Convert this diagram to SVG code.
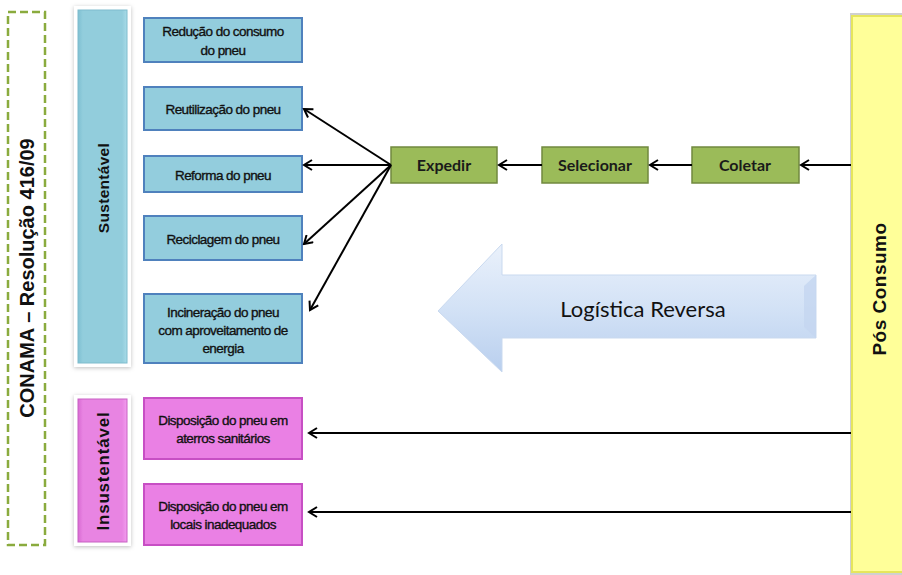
<svg xmlns="http://www.w3.org/2000/svg" width="902" height="575" viewBox="0 0 902 575">
<defs>
<style>
.bt{font-family:"Liberation Sans",Arial,sans-serif;font-size:13.5px;fill:#111;stroke:#111;stroke-width:0.35;text-anchor:middle;letter-spacing:-0.55px}
.gt{font-family:Lato,"Open Sans",sans-serif;font-size:16px;font-weight:700;fill:#1a1a1a;text-anchor:middle}
.rt{font-family:"Liberation Sans",Arial,sans-serif;font-weight:700;fill:#111;text-anchor:middle}
.blue{fill:#93cddd;stroke:#4f81bd;stroke-width:2}
.pink{fill:#ea80e4;stroke:#c74fc4;stroke-width:2}
.green{fill:#9bbb59;stroke:#71893f;stroke-width:1.5}
.con{stroke:#000;stroke-width:2;fill:none;marker-end:url(#ah)}
</style>
<marker id="ah" viewBox="0 0 12 12" refX="10" refY="6" markerWidth="12" markerHeight="12" markerUnits="userSpaceOnUse" orient="auto">
<path d="M2,1 L10,6 L2,11" fill="none" stroke="#000" stroke-width="2"/>
</marker>
<linearGradient id="ag" x1="0" y1="0" x2="0" y2="1">
<stop offset="0" stop-color="#eaf1fb"/>
<stop offset="0.5" stop-color="#d3e2f6"/>
<stop offset="1" stop-color="#b9cfee"/>
</linearGradient>
<linearGradient id="sb" x1="0" y1="0" x2="1" y2="0">
<stop offset="0" stop-color="#7fc0d2"/>
<stop offset="0.1" stop-color="#92cddc"/>
<stop offset="0.9" stop-color="#92cddc"/>
<stop offset="1" stop-color="#a8dbe8"/>
</linearGradient>
<linearGradient id="ib" x1="0" y1="0" x2="1" y2="0">
<stop offset="0" stop-color="#d86ad2"/>
<stop offset="0.1" stop-color="#e884e2"/>
<stop offset="0.9" stop-color="#e884e2"/>
<stop offset="1" stop-color="#f29cee"/>
</linearGradient>
<filter id="sh" x="-20%" y="-5%" width="140%" height="110%">
<feDropShadow dx="0" dy="1" stdDeviation="2" flood-color="#000" flood-opacity="0.25"/>
</filter>
</defs>

<g id="conama">
<rect x="8" y="12" width="37" height="533" fill="none" stroke="#8aab3e" stroke-width="2.5" stroke-dasharray="8,4"/>
<text class="rt" font-size="20" transform="translate(34,278) rotate(-90)">CONAMA – Resolução 416/09</text>
</g>

<g id="sustentavel">
<rect x="74" y="6" width="57" height="361" fill="#fff" filter="url(#sh)"/>
<rect x="78" y="10" width="49" height="353" fill="url(#sb)" stroke="#7fbccd" stroke-width="1"/>
<text class="rt" font-size="15.5" letter-spacing="0.3" transform="translate(109,188) rotate(-90)">Sustentável</text>
</g>

<g id="insustentavel">
<rect x="74" y="395" width="57" height="151" fill="#fff" filter="url(#sh)"/>
<rect x="78" y="399" width="49" height="143" fill="url(#ib)" stroke="#c860c3" stroke-width="1"/>
<text class="rt" font-size="17" letter-spacing="0.8" transform="translate(109,471) rotate(-90)">Insustentável</text>
</g>

<g id="reducao">
<rect class="blue" x="144" y="18" width="158" height="44"/>
<text class="bt" x="223" y="36">Redução do consumo</text>
<text class="bt" x="223" y="55">do pneu</text>
</g>
<g id="reutilizacao">
<rect class="blue" x="144" y="87" width="158" height="43"/>
<text class="bt" x="223" y="114">Reutilização do pneu</text>
</g>
<g id="reforma">
<rect class="blue" x="144" y="156" width="158" height="36"/>
<text class="bt" x="223" y="180">Reforma do pneu</text>
</g>
<g id="reciclagem">
<rect class="blue" x="144" y="216" width="158" height="44"/>
<text class="bt" x="223" y="244">Reciclagem do pneu</text>
</g>
<g id="incineracao">
<rect class="blue" x="144" y="294" width="158" height="69"/>
<text class="bt" x="223" y="317">Incineração do pneu</text>
<text class="bt" x="223" y="335">com aproveitamento de</text>
<text class="bt" x="223" y="353">energia</text>
</g>
<g id="aterros">
<rect class="pink" x="144" y="398" width="158" height="61"/>
<text class="bt" x="223" y="425">Disposição do pneu em</text>
<text class="bt" x="223" y="443">aterros sanitários</text>
</g>
<g id="locais">
<rect class="pink" x="144" y="484" width="158" height="61"/>
<text class="bt" x="223" y="511">Disposição do pneu em</text>
<text class="bt" x="223" y="529">locais inadequados</text>
</g>

<g id="expedir">
<rect class="green" x="391" y="147" width="106" height="36"/>
<text class="gt" x="444" y="171">Expedir</text>
</g>
<g id="selecionar">
<rect class="green" x="542" y="147" width="106" height="36"/>
<text class="gt" x="595" y="171">Selecionar</text>
</g>
<g id="coletar">
<rect class="green" x="692" y="147" width="107" height="36"/>
<text class="gt" x="745" y="171">Coletar</text>
</g>

<g id="pos-consumo">
<rect x="850" y="13" width="60" height="562" fill="#b0b0b0" opacity="0.6"/>
<rect x="852" y="16" width="56" height="556" fill="#ffff99" stroke="#e6e65c" stroke-width="2"/>
<text class="rt" font-size="19" letter-spacing="0.5" transform="translate(886,289) rotate(-90)">Pós Consumo</text>
</g>

<g id="logistica-reversa">
<path d="M438,311 L502,244 L502,275 L816,275 L816,338 L502,338 L502,372 Z" fill="url(#ag)" stroke="#c9d9ef" stroke-width="1"/>
<path d="M816,275 L804,286 L804,327 L816,338 Z" fill="#c4d6f0" opacity="0.8"/>
<text x="643" y="317" font-family="Lato,'Open Sans',sans-serif" font-size="22" fill="#111" text-anchor="middle">Logística Reversa</text>
</g>

<g id="connectors">
<line class="con" x1="851" y1="165" x2="801" y2="165"/>
<line class="con" x1="692" y1="165" x2="650" y2="165"/>
<line class="con" x1="542" y1="165" x2="499" y2="165"/>
<line class="con" x1="391" y1="165" x2="304" y2="109"/>
<line class="con" x1="391" y1="165" x2="304" y2="165"/>
<line class="con" x1="391" y1="165" x2="304" y2="244"/>
<line class="con" x1="391" y1="165" x2="310" y2="310"/>
<line class="con" x1="851" y1="433" x2="309" y2="433"/>
<line class="con" x1="851" y1="512" x2="309" y2="512"/>
</g>
</svg>
